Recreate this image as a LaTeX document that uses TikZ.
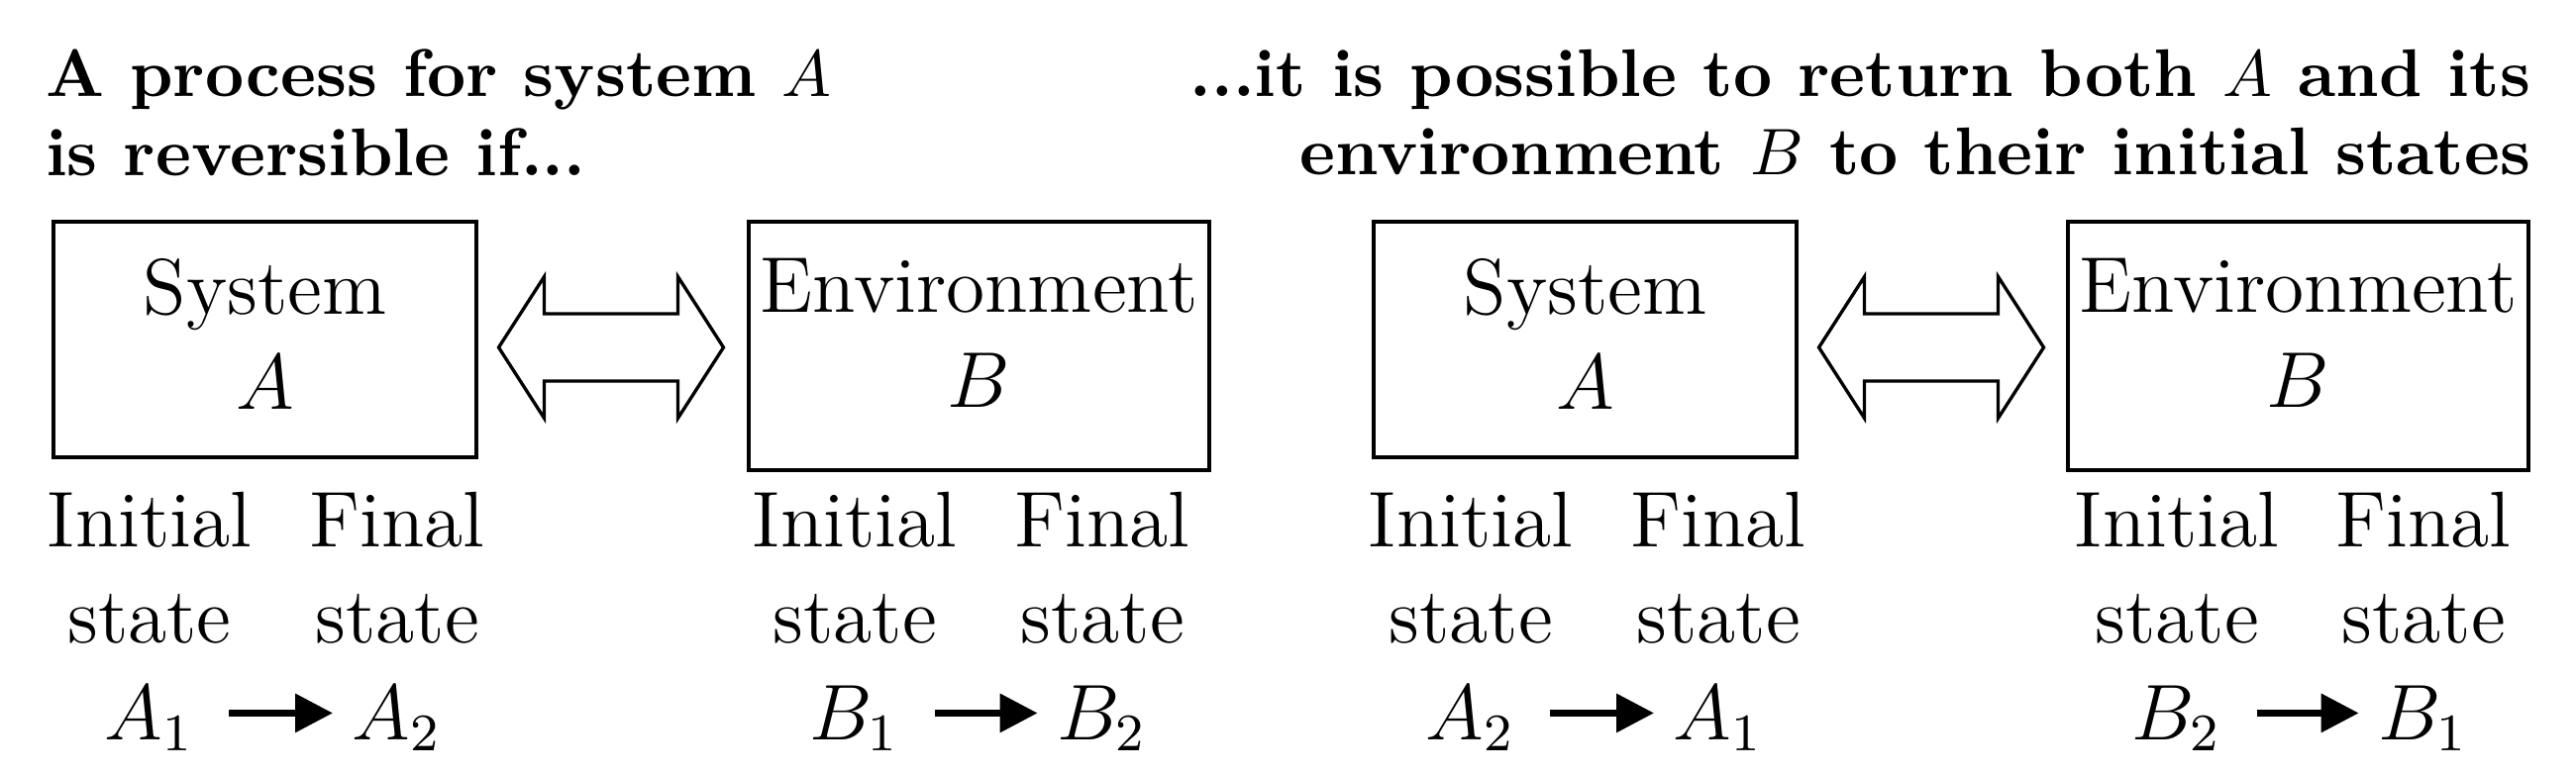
\documentclass[tikz,border=0pt]{standalone}
\usetikzlibrary{arrows.meta}
\begin{document}
\begin{tikzpicture}[x=0.1504pt, y=-0.1504pt,
  box/.style={draw, line width=0.5pt, inner sep=0pt, outer sep=0pt},
  txt/.style={inner sep=0pt, outer sep=0pt, font=\large},
  ttl/.style={inner sep=0pt, outer sep=0pt, font=\fontsize{10.25}{12.3}\selectfont\bfseries},
  statearrow/.style={line width=1pt, -{Triangle[length=5.7pt,width=5.7pt]}, shorten <=5.3pt, shorten >=3pt},
  dbl/.style={line width=0.5pt, line join=miter},
  dblarrow/.pic={\draw[dbl] (-113.5,0) -- (-67.5,71.5) -- (-67.5,34) -- (67.5,34) -- (67.5,71.5) -- (113.5,0) -- (67.5,-71.5) -- (67.5,-34) -- (-67.5,-34) -- (-67.5,-71.5) -- cycle;}
]
\useasboundingbox (0,0) rectangle (2601,782);

% titles
\node[ttl, anchor=base west] (tl1) at (46,97) {A process for system $A$};
\node[ttl, anchor=base west] (tl2) at (46,177) {is reversible if...};
\node[ttl, anchor=base east] (tr1) at (2555,97) {...it is possible to return both $A$ and its};
\node[ttl, anchor=base east] (tr2) at (2555,176) {environment $B$ to their initial states};

% boxes
\node[box, minimum width=64.22pt, minimum height=35.80pt] (sysA) at (267.5,343) {};
\node[box, minimum width=69.94pt, minimum height=37.75pt] (envB) at (988.5,349.5) {};
\node[box, minimum width=64.22pt, minimum height=35.80pt] (sysA2) at (1600.5,343) {};
\node[box, minimum width=69.94pt, minimum height=37.75pt] (envB2) at (2320.5,349.5) {};

% box texts
\node[txt, anchor=base] (s1a) at (267.5,317) {System};
\node[txt, anchor=base] (s1b) at (267.5,413) {$A$};
\node[txt, anchor=base] (e1a) at (988.5,315) {Environment};
\node[txt, anchor=base] (e1b) at (988.5,411) {$B$};
\node[txt, anchor=base] (s2a) at (1600.5,317) {System};
\node[txt, anchor=base] (s2b) at (1600.5,413) {$A$};
\node[txt, anchor=base] (e2a) at (2320.5,315) {Environment};
\node[txt, anchor=base] (e2b) at (2320.5,411) {$B$};

% double arrows
\pic at (617,351) {dblarrow};
\pic at (1950,351) {dblarrow};

% state labels
\foreach \i/\l/\r/\p/\q in {1/151/401/A_1/A_2, 2/863/1113/B_1/B_2, 3/1485/1735/A_2/A_1, 4/2198/2447/B_2/B_1} {
  \node[txt, anchor=base] (ini\i) at (\l,552) {Initial};
  \node[txt, anchor=base] (fin\i) at (\r,552) {Final};
  \node[txt, anchor=base] (sti\i) at (\l,649) {state};
  \node[txt, anchor=base] (stf\i) at (\r,649) {state};
  \node[txt, anchor=base] (p\i) at (\l,747) {$\p$};
  \node[txt, anchor=base] (q\i) at (\r,747) {$\q$};
  \draw[statearrow] ([yshift=4pt]p\i.base east) -- ([yshift=4pt]q\i.base west);
}
\end{tikzpicture}
\end{document}
